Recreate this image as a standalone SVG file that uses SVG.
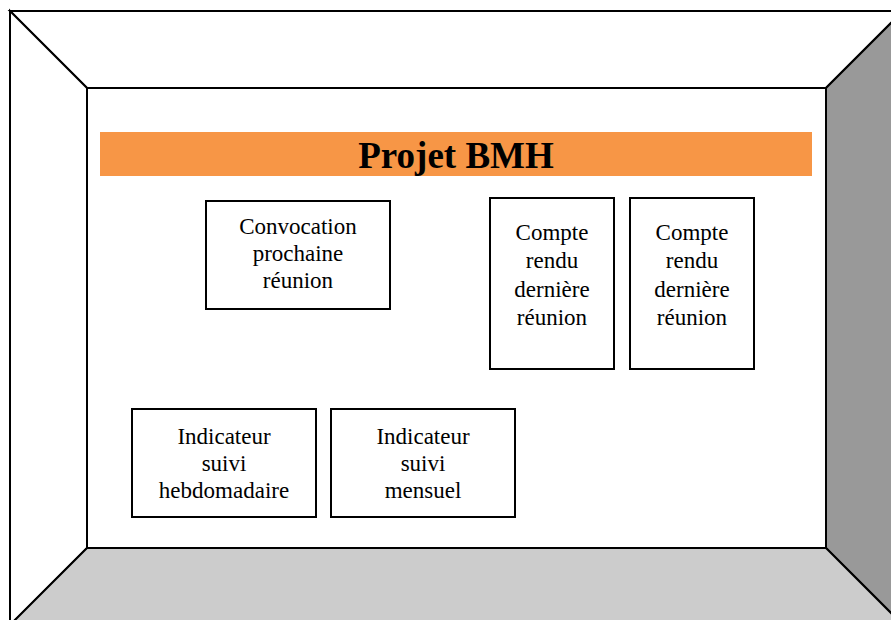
<svg xmlns="http://www.w3.org/2000/svg" width="891" height="620" viewBox="0 0 891 620">
<style>
.face{stroke:#000;stroke-width:2;stroke-linejoin:miter}
.box{fill:#fff;stroke:#000;stroke-width:2}
.t{font-family:"Liberation Serif","Times New Roman",serif;font-size:23px;fill:#000;text-anchor:middle}
.title{font-family:"Liberation Serif","Times New Roman",serif;font-size:37px;font-weight:bold;fill:#000;text-anchor:middle}
</style>
<rect width="891" height="620" fill="#fff"/>
<g id="room">
<polygon class="face" fill="#fff" points="10,11 903,11 826,88 87,88"/>
<polygon class="face" fill="#fff" points="10,11 87,88 87,548 10,625"/>
<polygon class="face" fill="#999999" points="903,11 903,625 826,548 826,88"/>
<polygon class="face" fill="#cccccc" points="87,548 826,548 903,625 10,625"/>
<rect x="87" y="88" width="739" height="460" fill="#fff" stroke="#000" stroke-width="2"/>
</g>
<g id="title">
<rect x="100" y="132" width="712" height="44" fill="#F79646"/>
<text class="title" x="456" y="168">Projet BMH</text>
</g>
<g id="convocation">
<rect class="box" x="206" y="201" width="184" height="108"/>
<text class="t" x="298" y="234">Convocation</text>
<text class="t" x="298" y="261">prochaine</text>
<text class="t" x="298" y="288">réunion</text>
</g>
<g id="compte-rendu-1">
<rect class="box" x="490" y="198" width="124" height="171"/>
<text class="t" x="552" y="240">Compte</text>
<text class="t" x="552" y="268">rendu</text>
<text class="t" x="552" y="297">dernière</text>
<text class="t" x="552" y="325">réunion</text>
</g>
<g id="compte-rendu-2">
<rect class="box" x="630" y="198" width="124" height="171"/>
<text class="t" x="692" y="240">Compte</text>
<text class="t" x="692" y="268">rendu</text>
<text class="t" x="692" y="297">dernière</text>
<text class="t" x="692" y="325">réunion</text>
</g>
<g id="indicateur-hebdo">
<rect class="box" x="132" y="409" width="184" height="108"/>
<text class="t" x="224" y="444">Indicateur</text>
<text class="t" x="224" y="471">suivi</text>
<text class="t" x="224" y="498">hebdomadaire</text>
</g>
<g id="indicateur-mensuel">
<rect class="box" x="331" y="409" width="184" height="108"/>
<text class="t" x="423" y="444">Indicateur</text>
<text class="t" x="423" y="471">suivi</text>
<text class="t" x="423" y="498">mensuel</text>
</g>
<g id="connectors"></g>
</svg>
